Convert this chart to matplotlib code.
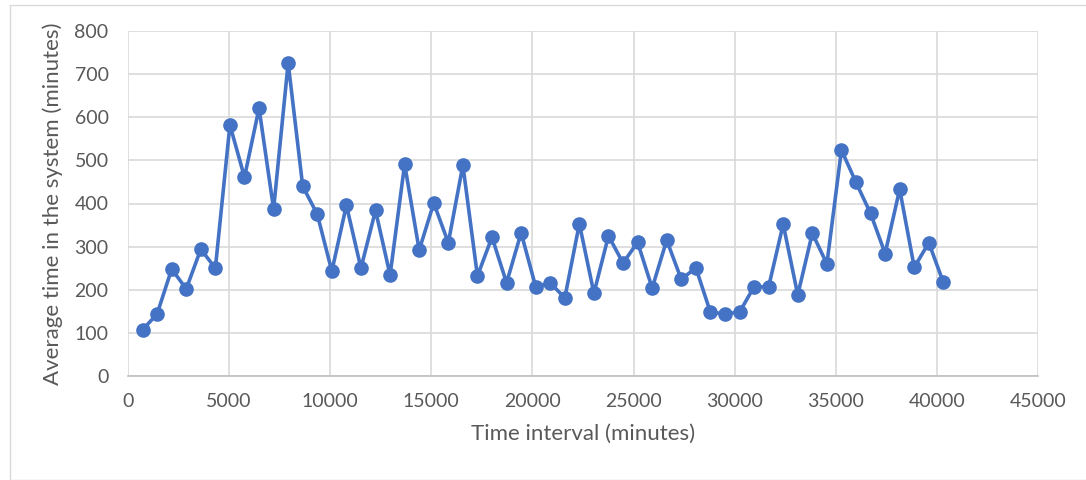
import matplotlib
matplotlib.use("Agg")
import matplotlib.pyplot as plt
from matplotlib.patches import Rectangle

time_interval = [720 * (i + 1) for i in range(56)]
avg_time = [107, 144, 248, 202, 294, 250, 582, 461, 621, 387, 726, 440, 375, 243,
            396, 250, 384, 234, 491, 292, 401, 309, 489, 232, 322, 216, 332, 207,
            216, 181, 353, 192, 325, 262, 310, 204, 315, 224, 251, 148, 144, 148,
            207, 207, 352, 188, 331, 260, 524, 449, 377, 284, 433, 252, 309, 217]
x_ticks = list(range(0, 45001, 5000))
y_ticks = list(range(0, 801, 100))

plt.rcParams['font.family'] = ['Lato', 'DejaVu Sans']
text_color = '#595959'

fig = plt.figure(figsize=(10.86, 4.8), dpi=100)
fig.patches.append(Rectangle((10 / 1086, 0), 1.0, 1 - 5 / 480, transform=fig.transFigure,
                             fill=False, edgecolor='#D9D9D9', linewidth=1.0))
ax = fig.add_axes([128 / 1086, 1 - 376 / 480, 910 / 1086, 345 / 480])

ax.plot(time_interval, avg_time, color='#4472C4', linewidth=2.6, marker='o',
        markersize=9.5, zorder=3)

ax.set_xlim(0, 45000)
ax.set_ylim(0, 800)
ax.set_xticks(x_ticks)
ax.set_yticks(y_ticks)
ax.set_xticklabels([str(v) for v in x_ticks])
ax.set_yticklabels([str(v) for v in y_ticks])
ax.grid(True, color='#D9D9D9', linewidth=1.2)
ax.set_axisbelow(True)
for s in ['top', 'right', 'left']:
    ax.spines[s].set_visible(False)
ax.spines['bottom'].set_color('#BFBFBF')
ax.spines['bottom'].set_linewidth(1.2)
ax.tick_params(axis='both', length=0, labelsize=14, colors=text_color)
ax.tick_params(axis='x', pad=12)
ax.tick_params(axis='y', pad=14)
ax.set_xlabel('Time interval (minutes)', fontsize=16, color=text_color, labelpad=10)
ax.set_ylabel('Average time in the system (minutes)', fontsize=16, color=text_color, labelpad=8)

fig.savefig('out.png', dpi=100)
